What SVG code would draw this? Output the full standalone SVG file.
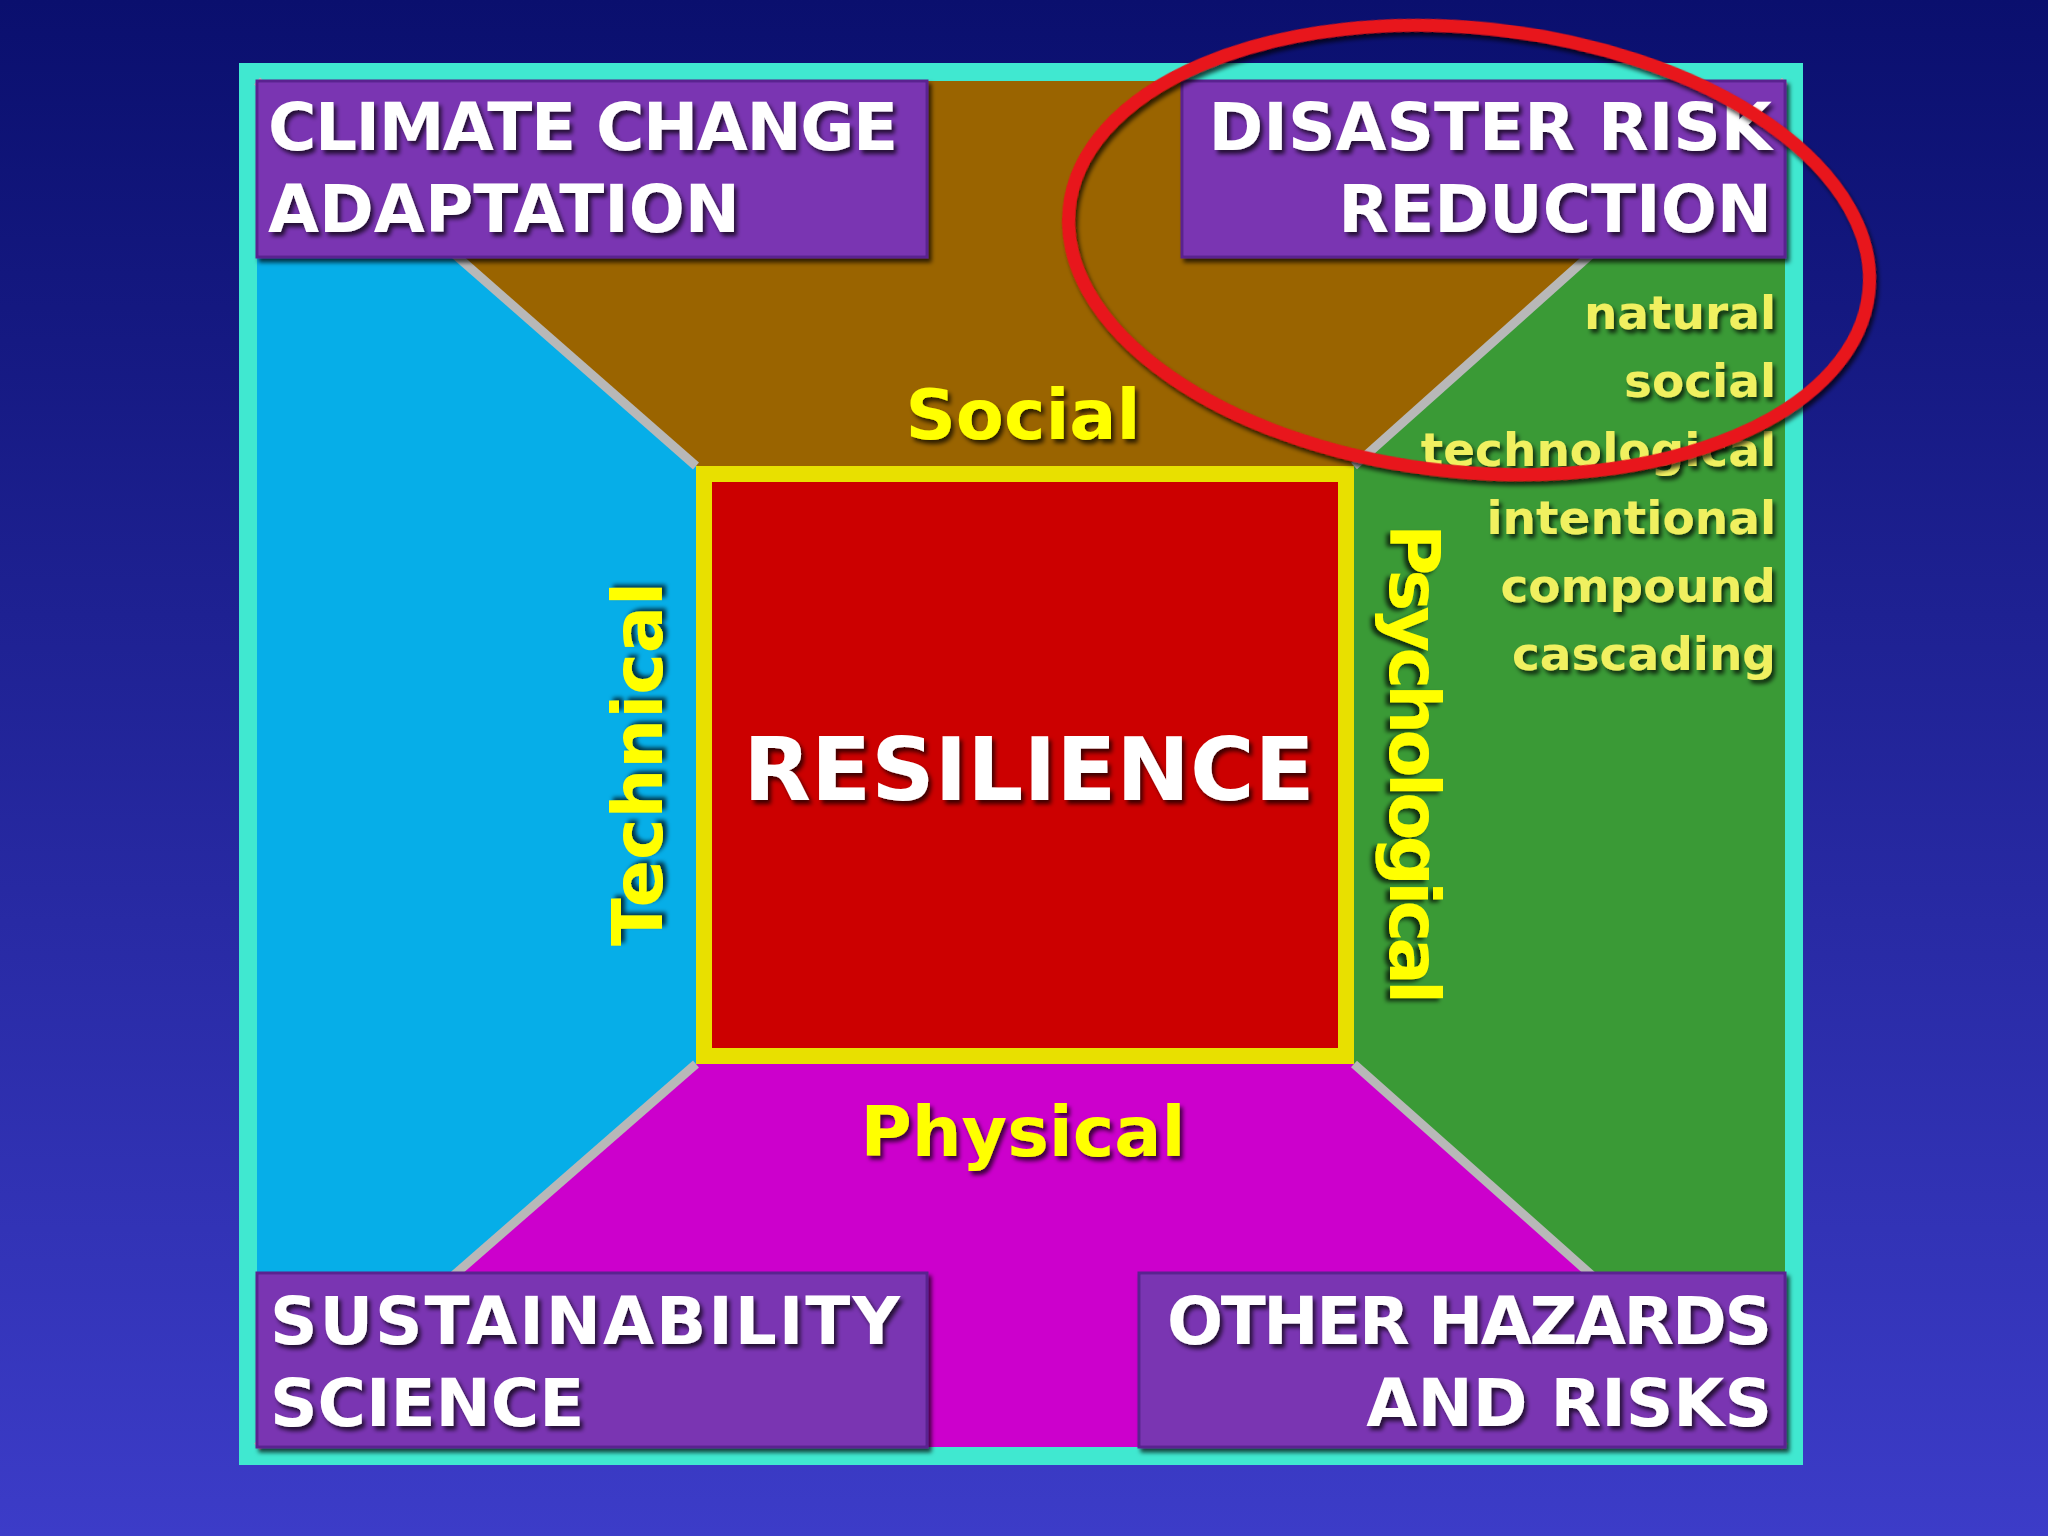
<svg xmlns="http://www.w3.org/2000/svg" width="2048" height="1536" viewBox="0 0 2048 1536">
<defs>
<linearGradient id="bg" x1="0" y1="0" x2="0" y2="1"><stop offset="0" stop-color="#0a0f6e"/><stop offset="1" stop-color="#3c3cc8"/></linearGradient>
<filter id="sh" x="-10%" y="-10%" width="130%" height="130%"><feDropShadow dx="3" dy="4" stdDeviation="2" flood-color="#000" flood-opacity="0.7"/></filter>
</defs>
<style>
.box{fill:#7a36b2;stroke:#5a2490;stroke-width:3;filter:url(#sh)}
.bt{font-family:"DejaVu Sans",sans-serif;font-weight:bold;font-size:66px;fill:#fff;filter:url(#sh)}
.yl{font-family:"DejaVu Sans",sans-serif;font-weight:bold;font-size:70px;fill:#ffff00;filter:url(#sh)}
.ls{font-family:"DejaVu Sans",sans-serif;font-weight:bold;font-size:47px;fill:#f0f060;text-anchor:end;filter:url(#sh)}
.diag{stroke:#b8b8b8;stroke-width:9}
</style>
<rect width="2048" height="1536" fill="url(#bg)"/>
<g id="frame"><rect x="248" y="72" width="1546" height="1384" fill="#06aee8" stroke="#40e8d0" stroke-width="18"/></g>
<g id="sectors">
<polygon points="257,81 1785,81 1354,466 696,466" fill="#9a6400"/>
<polygon points="1785,81 1785,1447 1354,1064 1354,466" fill="#3a9a36"/>
<polygon points="257,1447 1785,1447 1354,1064 696,1064" fill="#cc00cc"/>
</g>
<g id="connectors">
<line class="diag" x1="257" y1="81" x2="696" y2="466"/>
<line class="diag" x1="1785" y1="81" x2="1354" y2="466"/>
<line class="diag" x1="257" y1="1447" x2="696" y2="1064"/>
<line class="diag" x1="1785" y1="1447" x2="1354" y2="1064"/>
</g>
<g id="resilience">
<rect x="704" y="474" width="642" height="582" fill="#cc0000" stroke="#e8e000" stroke-width="16"/>
<text x="1029" y="800" text-anchor="middle" style="font-family:'DejaVu Sans',sans-serif;font-weight:bold;font-size:88px;fill:#fff;filter:url(#sh)">RESILIENCE</text>
</g>
<g id="labels">
<text class="yl" x="1023" y="439" text-anchor="middle">Social</text>
<text class="yl" x="1023" y="1156" text-anchor="middle">Physical</text>
<text class="yl" transform="translate(662,764) rotate(-90)" text-anchor="middle">Technical</text>
<text class="yl" transform="translate(1390,764) rotate(90)" text-anchor="middle" textLength="480">Psychological</text>
</g>
<g id="cca"><rect class="box" x="257" y="81" width="670" height="176"/>
<text class="bt" x="268" y="150" textLength="630">CLIMATE CHANGE</text>
<text class="bt" x="268" y="232">ADAPTATION</text></g>
<g id="drr"><rect class="box" x="1182" y="81" width="603" height="176"/>
<text class="bt" x="1772" y="150" text-anchor="end">DISASTER RISK</text>
<text class="bt" x="1772" y="232" text-anchor="end">REDUCTION</text></g>
<g id="ss"><rect class="box" x="257" y="1273" width="670" height="174"/>
<text class="bt" x="270" y="1344" textLength="630">SUSTAINABILITY</text>
<text class="bt" x="270" y="1426">SCIENCE</text></g>
<g id="ohr"><rect class="box" x="1139" y="1273" width="646" height="174"/>
<text class="bt" x="1772" y="1344" text-anchor="end" textLength="605">OTHER HAZARDS</text>
<text class="bt" x="1772" y="1426" text-anchor="end">AND RISKS</text></g>
<g id="hazards">
<text class="ls" x="1776" y="329">natural</text>
<text class="ls" x="1776" y="397">social</text>
<text class="ls" x="1776" y="466">technological</text>
<text class="ls" x="1776" y="534">intentional</text>
<text class="ls" x="1776" y="602">compound</text>
<text class="ls" x="1776" y="670">cascading</text>
</g>
<g id="highlight"><ellipse cx="1469" cy="250" rx="402" ry="222" transform="rotate(6 1469 250)" fill="none" stroke="#e8141a" stroke-width="13" filter="url(#sh)"/></g>
</svg>
